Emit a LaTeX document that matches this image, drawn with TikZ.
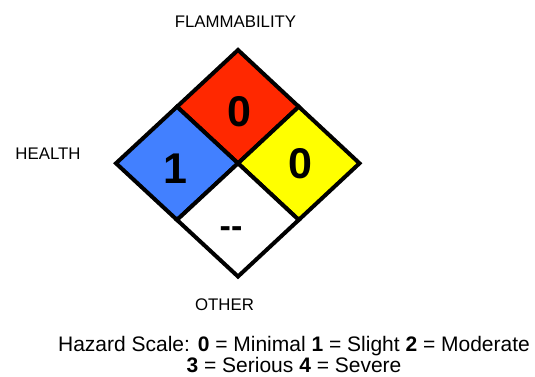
\documentclass[tikz,border=0pt]{standalone}
\usepackage{fontspec}
\setmainfont{Liberation Sans}
\definecolor{hzblue}{RGB}{66,128,255}
\definecolor{hzred}{RGB}{255,40,0}
\definecolor{hzyellow}{RGB}{255,255,0}
\tikzset{
  panel/.style={draw=black,line width=4pt,line join=miter},
  rating/.style={font=\fontsize{43}{50}\selectfont\bfseries,inner sep=0pt},
  dashrating/.style={font=\fontsize{34}{40}\selectfont\bfseries,inner sep=0pt,anchor=base},
  hzlabel/.style={font=\fontsize{16.8}{20}\selectfont,inner sep=0pt},
  scaletext/.style={font=\fontsize{21}{25}\selectfont,inner sep=0pt,anchor=base}
}

\begin{document}
\begin{tikzpicture}[x=1pt,y=-1pt]
  \useasboundingbox (0,0) rectangle (535,376);
  \coordinate (T) at (238,50);
  \coordinate (L) at (116,163.3);
  \coordinate (R) at (359.5,163.3);
  \coordinate (B) at (238,276.5);
  \coordinate (M) at (238,163.3);
  \coordinate (TL) at (177,106.7);
  \coordinate (TR) at (298.75,106.7);
  \coordinate (BL) at (177,219.9);
  \coordinate (BR) at (298.75,219.9);

  \draw[panel,fill=hzred] (T)--(TR)--(M)--(TL)--cycle;
  \draw[panel,fill=hzblue] (L)--(TL)--(M)--(BL)--cycle;
  \draw[panel,fill=hzyellow] (R)--(TR)--(M)--(BR)--cycle;
  \draw[panel,fill=white] (B)--(BL)--(M)--(BR)--cycle;

  \node[rating] (fire) at (239.5,111.7) {0};
  \node[rating] (health) at (175.5,169) {1};
  \node[rating] (react) at (300.5,163.3) {0};
  \node[dashrating] (other) at (231,237.8) {{-}{-}};

  \node[hzlabel] (flamlabel) at (235.5,21.7) {FLAMMABILITY};
  \node[hzlabel] (healthlabel) at (48,153.7) {HEALTH};
  \node[hzlabel] (otherlabel) at (224.5,305) {OTHER};

  \node[scaletext] (scale1) at (294,351.5) {Hazard Scale: \textbf{0} = Minimal \textbf{1} = Slight \textbf{2} = Moderate};
  \node[scaletext] (scale2) at (294,372) {\textbf{3} = Serious \textbf{4} = Severe};
\end{tikzpicture}
\end{document}
